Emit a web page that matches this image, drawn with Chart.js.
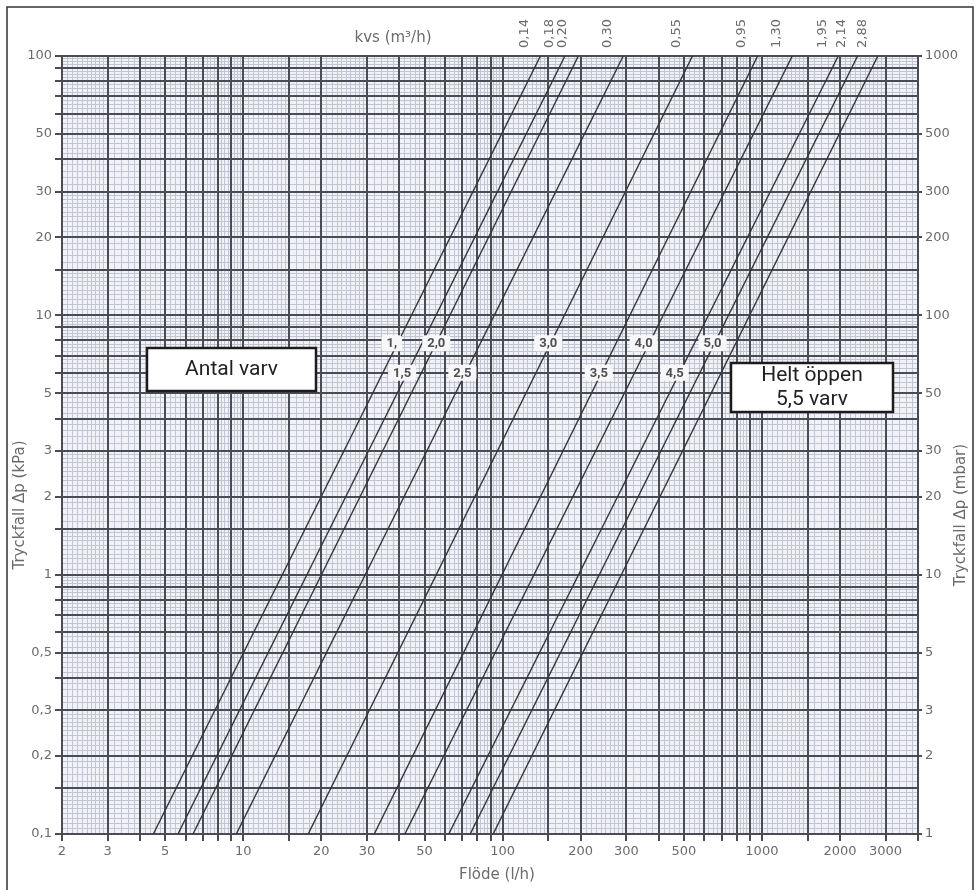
<!DOCTYPE html>
<html>
<head>
<meta charset="utf-8">
<script src="https://cdn.jsdelivr.net/npm/chart.js@4/dist/chart.umd.min.js"></script>
<style>
  html, body { margin: 0; padding: 0; background: #fff; }
  #wrap { width: 978px; height: 890px; }
</style>
</head>
<body>
<div id="wrap"><canvas id="chart" width="978" height="890"></canvas></div>
<script>
// kvs lines: flow (l/h) where each line crosses 0,1 kPa and 100 kPa
const kvsLabels = ['0,14', '0,18', '0,20', '0,30', '0,55', '0,95', '1,30', '1,95', '2,14', '2,88'];
const flowAtMin = [4.5, 5.6, 6.4, 9.4, 17.8, 32, 42, 62, 75, 92];
const flowAtMax = [140, 174, 196, 292, 540, 963, 1310, 1970, 2340, 2800];
const dpMin = 0.1, dpMax = 100;

// turn markers (antal varv) sitting on the lines
const turnLabels = ['1,', '1,5', '2,0', '2,5', '3,0', '3,5', '4,0', '4,5', '5,0'];
const turnFlow = [37.4, 41, 55.5, 70, 150, 235, 350, 461, 645];
const turnDp = [7.8, 6.0, 7.8, 6.0, 7.8, 6.0, 7.8, 6.0, 7.8];

// labelled ticks
const xTickLabels = [2, 3, 5, 10, 20, 30, 50, 100, 200, 300, 500, 1000, 2000, 3000];
const yTickLabels = [0.1, 0.2, 0.3, 0.5, 1, 2, 3, 5, 10, 20, 30, 50, 100];
const y2TickLabels = [1, 2, 3, 5, 10, 20, 30, 50, 100, 200, 300, 500, 1000];

const DARK = '#4a4c54';
const LIGHT = '#c2c5d1';
const TXT = '#6b6b6b';
const NUM_FONT = { family: 'DejaVu Sans', size: 13 };

// graph paper lines per decade
const majorMant = [1, 1.5, 2, 3, 4, 5, 6, 7, 8, 9];
const minorSteps = [[1, 1.5, 0.05], [1.5, 2, 0.1], [2, 3, 0.1], [3, 5, 0.2], [5, 10, 0.25]];

function gridValues(min, max) {
  const major = [], minor = [];
  const isMajor = m => majorMant.some(a => Math.abs(a - m) < 1e-6);
  for (let e = Math.floor(Math.log10(min)); e <= Math.ceil(Math.log10(max)); e++) {
    const p = Math.pow(10, e);
    majorMant.forEach(m => major.push(+(m * p).toPrecision(6)));
    minorSteps.forEach(([a, b, s]) => {
      for (let m = a + s; m < b - 1e-6; m += s) {
        if (!isMajor(m)) minor.push(+(m * p).toPrecision(6));
      }
    });
  }
  const inRange = v => v >= min * 0.9999 && v <= max * 1.0001;
  return { major: major.filter(inRange), minor: minor.filter(inRange) };
}

const xg = gridValues(2, 4000);
const yg = gridValues(0.1, 100);

const fmt = v => String(v).replace('.', ',');
const fixedTicks = values => scale => { scale.ticks = values.map(v => ({ value: v })); };
const hasVal = (arr, v) => arr.some(a => Math.abs(a - v) < 1e-9 * Math.max(1, a));

const datasets = kvsLabels.map((k, i) => ({
  label: k,
  data: [{ x: flowAtMin[i], y: dpMin }, { x: flowAtMax[i], y: dpMax }],
  borderColor: '#34353a',
  borderWidth: 1.4,
  pointRadius: 0,
  tension: 0
}));

function boxText(ctx, x1, y1, x2, y2, lines, lineY) {
  ctx.save();
  ctx.fillStyle = '#fff';
  ctx.fillRect(x1, y1, x2 - x1, y2 - y1);
  ctx.lineWidth = 2.5;
  ctx.strokeStyle = '#1c1c1c';
  ctx.strokeRect(x1, y1, x2 - x1, y2 - y1);
  ctx.fillStyle = '#222';
  ctx.font = '21px Roboto';
  ctx.textAlign = 'center';
  ctx.textBaseline = 'middle';
  lines.forEach((t, i) => ctx.fillText(t, (x1 + x2) / 2, lineY[i]));
  ctx.restore();
}

const paperPlugin = {
  id: 'paper',
  beforeDraw(chart) {
    const { ctx, chartArea: a } = chart;
    ctx.save();
    ctx.fillStyle = '#f1f2f7';
    ctx.fillRect(a.left, a.top, a.right - a.left, a.bottom - a.top);
    ctx.restore();
  },
  afterDatasetsDraw(chart) {
    const { ctx } = chart;
    const xs = chart.scales.x, ys = chart.scales.y;
    ctx.save();
    ctx.font = 'bold 13px Roboto';
    ctx.textAlign = 'center';
    ctx.textBaseline = 'middle';
    turnLabels.forEach((t, i) => {
      const px = xs.getPixelForValue(turnFlow[i]);
      const py = ys.getPixelForValue(turnDp[i]);
      const w = ctx.measureText(t).width + 10;
      ctx.fillStyle = '#f7f7f9';
      ctx.beginPath();
      ctx.roundRect(px - w / 2, py - 8, w, 16, 3);
      ctx.fill();
      ctx.fillStyle = '#505050';
      ctx.fillText(t, px, py + 0.5);
    });
    ctx.restore();

    boxText(ctx, 147, 348, 316, 391, ['Antal varv'], [370]);
    boxText(ctx, 731, 363, 893, 412, ['Helt öppen', '5,5 varv'], [376, 400]);
  },
  afterDraw(chart) {
    const { ctx } = chart;
    ctx.save();
    // outer frame
    ctx.strokeStyle = '#333';
    ctx.lineWidth = 1.5;
    ctx.strokeRect(7, 7, 966, 900);

    ctx.fillStyle = TXT;
    ctx.font = '15px "DejaVu Sans"';
    ctx.textAlign = 'center';
    ctx.textBaseline = 'middle';
    ctx.fillText('kvs (m³/h)', 393, 38);
    ctx.fillText('Flöde (l/h)', 497, 875);

    ctx.translate(20, 505);
    ctx.rotate(-Math.PI / 2);
    ctx.fillText('Tryckfall Δp (kPa)', 0, 0);
    ctx.restore();

    ctx.save();
    ctx.fillStyle = TXT;
    ctx.font = '15px "DejaVu Sans"';
    ctx.textAlign = 'center';
    ctx.textBaseline = 'middle';
    ctx.translate(961, 515);
    ctx.rotate(-Math.PI / 2);
    ctx.fillText('Tryckfall Δp (mbar)', 0, 0);
    ctx.restore();
  }
};

new Chart(document.getElementById('chart'), {
  type: 'line',
  data: { datasets },
  options: {
    responsive: false,
    animation: false,
    events: [],
    layout: { padding: 0 },
    plugins: { legend: { display: false }, tooltip: { enabled: false } },
    scales: {
      x: {
        type: 'logarithmic', position: 'bottom', min: 2, max: 4000,
        afterBuildTicks: fixedTicks(xg.major),
        afterFit: s => { s.height = 56; },
        ticks: {
          autoSkip: false, maxRotation: 0, padding: 3, color: TXT, font: NUM_FONT,
          callback: v => hasVal(xTickLabels, v) ? fmt(v) : ''
        },
        grid: { color: DARK, lineWidth: 2, tickLength: 7, tickColor: DARK, z: -1 },
        border: { color: DARK, width: 2 }
      },
      xMinor: {
        type: 'logarithmic', position: 'bottom', min: 2, max: 4000,
        afterBuildTicks: fixedTicks(xg.minor),
        afterFit: s => { s.height = 0; },
        ticks: { display: false },
        grid: { color: LIGHT, lineWidth: 1, drawTicks: false, z: -2 },
        border: { display: false }
      },
      x2: {
        type: 'logarithmic', position: 'top', min: 2, max: 4000,
        afterBuildTicks: fixedTicks(flowAtMax),
        afterFit: s => { s.height = 56; },
        ticks: {
          autoSkip: false, minRotation: 90, maxRotation: 90, padding: 8, color: TXT, font: NUM_FONT,
          callback: (v, i) => kvsLabels[i]
        },
        grid: { display: false, drawTicks: false },
        border: { color: DARK, width: 2 }
      },
      y: {
        type: 'logarithmic', position: 'left', min: 0.1, max: 100,
        afterBuildTicks: fixedTicks(yg.major),
        afterFit: s => { s.width = 62; },
        ticks: {
          autoSkip: false, padding: 3, color: TXT, font: NUM_FONT,
          callback: v => hasVal(yTickLabels, v) ? fmt(v) : ''
        },
        grid: { color: DARK, lineWidth: 2, tickLength: 7, tickColor: DARK, z: -1 },
        border: { color: DARK, width: 2 }
      },
      yMinor: {
        type: 'logarithmic', position: 'left', min: 0.1, max: 100,
        afterBuildTicks: fixedTicks(yg.minor),
        afterFit: s => { s.width = 0; },
        ticks: { display: false },
        grid: { color: LIGHT, lineWidth: 1, drawTicks: false, z: -2 },
        border: { display: false }
      },
      y2: {
        type: 'logarithmic', position: 'right', min: 1, max: 1000,
        afterBuildTicks: fixedTicks(y2TickLabels),
        afterFit: s => { s.width = 60; },
        ticks: { autoSkip: false, padding: 3, color: TXT, font: NUM_FONT, callback: v => fmt(v) },
        grid: { drawOnChartArea: false, tickLength: 4, color: DARK, lineWidth: 2 },
        border: { color: DARK, width: 2 }
      }
    }
  },
  plugins: [paperPlugin]
});
</script>
</body>
</html>
